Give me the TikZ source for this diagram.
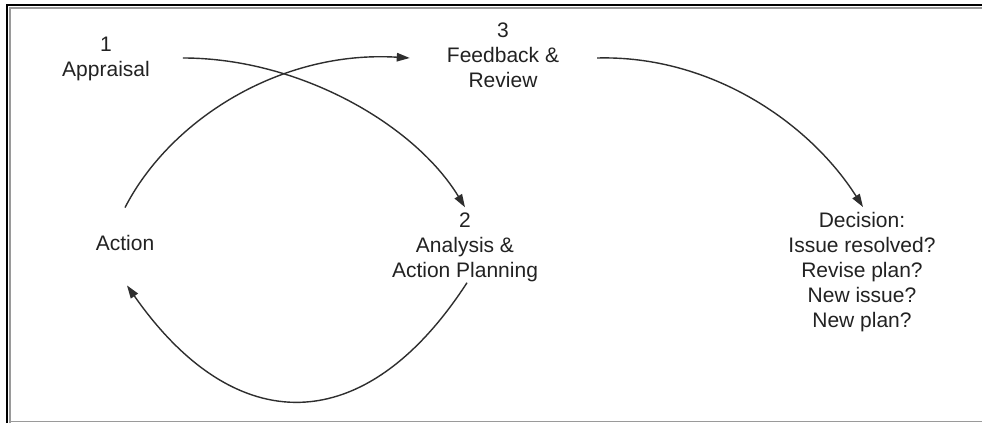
\documentclass[tikz,border=0pt]{standalone}
\usepackage{fontspec}
\setmainfont{Liberation Sans}
\usetikzlibrary{arrows.meta}
\definecolor{ink}{HTML}{222222}
\definecolor{wire}{HTML}{2E2E2E}
\definecolor{rim}{HTML}{9A9A9A}
\begin{document}
\begin{tikzpicture}[x=1pt,y=-1pt,
  label/.style={align=center,inner sep=0pt,text=ink,
    font=\fontsize{21}{25}\selectfont},
  flow/.style={draw=wire,line width=1.4pt,
    -{Triangle[length=13pt,width=8.5pt]}}]
\useasboundingbox (0,0) rectangle (982,423);
\fill[white] (0,0) rectangle (982,423);

% window frame: dark outer edge and grey inner edge
\draw[line width=2.2pt,black] (7,423) -- (7,5) -- (982,5);
\draw[line width=2pt,rim] (10,423) -- (10,8) -- (982,8);
\draw[line width=1.6pt,rim] (9,421.5) -- (982,421.5);

% stages
\node[label] (appraisal) at (106,59) {1\\Appraisal};
\node[label] (feedback)  at (503,55) {3\\Feedback \&\\Review};
\node[label] (analysis)  at (465,247) {2\\Analysis \&\\Action Planning};
\node[label] (action)    at (125,243) {Action};
\node[label] (decision)  at (862,272) {Decision:\\Issue resolved?\\Revise plan?\\New issue?\\New plan?};

% connector end points beside the labels (shifts are in page units, up is positive)
\coordinate (a1) at ([xshift=33pt,yshift=1pt]appraisal.east);
\coordinate (a2) at ([yshift=5pt]analysis.north);
\coordinate (b1) at ([yshift=27.5pt]action.north);
\coordinate (b2) at ([xshift=-37pt,yshift=-3pt]feedback.west);
\coordinate (c1) at ([xshift=38pt,yshift=-3pt]feedback.east);
\coordinate (c2) at ([xshift=1pt,yshift=5pt]decision.north);
\coordinate (d1) at ([xshift=2pt,yshift=-1pt]analysis.south);
\coordinate (d2) at ([xshift=2pt,yshift=-34.5pt]action.south);

% cycle arrows
\draw[flow] (a1) .. controls (300,58) and (415,125) .. (a2);
\draw[flow] (b1) .. controls (170,120) and (280,50) .. (b2);
\draw[flow] (c1) .. controls (710,55) and (809,122) .. (c2);
\draw[flow] (d1) .. controls (365,440) and (235,440) .. (d2);
\end{tikzpicture}
\end{document}
